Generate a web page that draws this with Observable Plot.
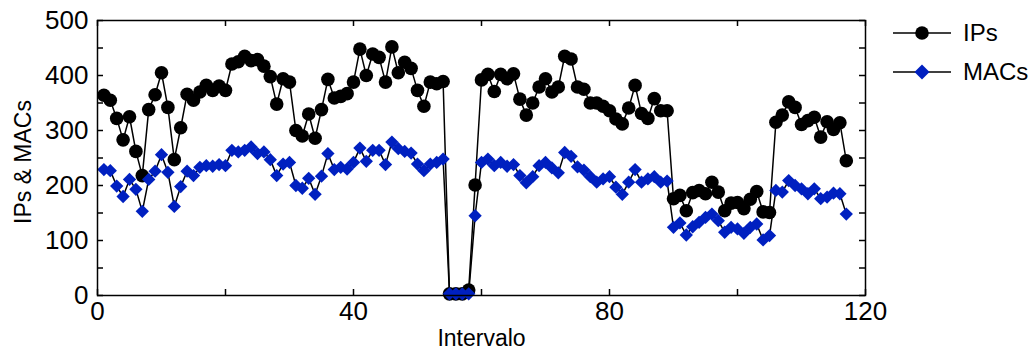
<!DOCTYPE html>
<html>
<head>
<meta charset="utf-8">
<script src="https://cdn.jsdelivr.net/npm/d3@7"></script>
<script src="https://cdn.jsdelivr.net/npm/@observablehq/plot@0.6"></script>
<style>
  body { margin: 0; background: #fff; }
  #wrap { position: relative; width: 1035px; height: 349px; font-family: "Liberation Sans", Arial, Helvetica, sans-serif; }
  #legend { position: absolute; left: 0; top: 0; width: 1035px; height: 349px; pointer-events: none; }
  .lg-item { position: absolute; display: flex; align-items: center; font-size: 24px; color: #000; }
  .lg-item svg { display: block; margin-right: 12px; }
</style>
</head>
<body>
<div id="wrap"><div id="chart"></div><div id="legend"></div></div>
<script>
// ---- data ----
const seriesNames = ["IPs", "MACs"];
const intervalo = d3.range(1, 118); // interval index 1..117
const ips = [
  364, 355, 322, 283, 325, 262, 218, 338, 365, 405,
  342, 247, 305, 366, 355, 370, 382, 373, 381, 373,
  421, 425, 435, 427, 429, 417, 398, 348, 394, 388,
  300, 290, 330, 286, 338, 393, 359, 362, 367, 388,
  448, 400, 439, 433, 388, 452, 405, 424, 413, 373,
  344, 388, 385, 389, 3, 3, 3, 10, 201, 392,
  402, 371, 402, 394, 403, 357, 328, 350, 379, 394,
  370, 379, 435, 430, 379, 375, 350, 350, 344, 336,
  321, 312, 341, 382, 331, 322, 358, 336, 336, 176,
  182, 154, 187, 191, 185, 206, 188, 154, 168, 169,
  158, 175, 189, 152, 151, 315, 328, 352, 342, 311,
  318, 324, 288, 316, 302, 314, 245
];
const macs = [
  229, 227, 199, 180, 211, 193, 153, 211, 226, 256,
  224, 162, 198, 226, 218, 233, 236, 235, 238, 236,
  264, 261, 264, 270, 258, 261, 247, 218, 239, 242,
  200, 195, 213, 184, 217, 258, 229, 233, 230, 242,
  268, 244, 264, 264, 238, 279, 267, 262, 259, 239,
  227, 239, 242, 248, 3, 3, 3, 3, 145, 242,
  248, 236, 242, 235, 238, 218, 205, 216, 236, 242,
  232, 223, 260, 253, 234, 228, 216, 206, 212, 216,
  197, 184, 206, 229, 206, 212, 216, 206, 208, 124,
  132, 110, 125, 133, 142, 148, 136, 115, 124, 121,
  113, 124, 130, 101, 109, 191, 188, 209, 200, 194,
  185, 194, 176, 179, 186, 185, 148
];
const xTickLabels = [0, 40, 80, 120];
const xTickMarks = [0, 20, 40, 60, 80, 100, 120];
const yTickLabels = [0, 100, 200, 300, 400, 500];
const yTickMarks = [0, 50, 100, 150, 200, 250, 300, 350, 400, 450, 500];
const xDomain = [0, 120];
const yDomain = [0, 500];

// ---- layout / style ----
const W = 1035, H = 349;
const mL = 97, mR = 170, mT = 20, mB = 54;
const blue = "#0020c0";
const tickLen = 6;
const yUnitsPerPx = (yDomain[1] - yDomain[0]) / (H - mT - mB);
const xUnitsPerPx = (xDomain[1] - xDomain[0]) / (W - mL - mR);

const ipsData = intervalo.map((x, i) => ({x, v: ips[i]}));
const macsData = intervalo.map((x, i) => ({x, v: macs[i]}));

const tickStyle = {stroke: "black", strokeWidth: 1.5};

const chart = Plot.plot({
  width: W, height: H,
  marginLeft: mL, marginRight: mR, marginTop: mT, marginBottom: mB,
  style: {fontFamily: '"Liberation Sans", Arial, Helvetica, sans-serif', fontSize: "24px", background: "white", color: "black", overflow: "visible"},
  x: {domain: xDomain},
  y: {domain: yDomain},
  marks: [
    // inward tick marks on all four sides
    Plot.ruleX(xTickMarks, {x: d => d, y1: yDomain[0], y2: yDomain[0] + tickLen * yUnitsPerPx, ...tickStyle}),
    Plot.ruleX(xTickMarks, {x: d => d, y1: yDomain[1] - tickLen * yUnitsPerPx, y2: yDomain[1], ...tickStyle}),
    Plot.ruleY(yTickMarks, {y: d => d, x1: xDomain[0], x2: xDomain[0] + tickLen * xUnitsPerPx, ...tickStyle}),
    Plot.ruleY(yTickMarks, {y: d => d, x1: xDomain[1] - tickLen * xUnitsPerPx, x2: xDomain[1], ...tickStyle}),
    Plot.axisX({ticks: xTickLabels, tickSize: 0, tickPadding: 6, fontSize: 26, label: null}),
    Plot.axisY({ticks: yTickLabels, tickSize: 0, tickPadding: 9, fontSize: 26, label: null}),
    Plot.text(["Intervalo"], {frameAnchor: "bottom", dy: 50, lineAnchor: "bottom", textAnchor: "middle", fontSize: 23}),
    Plot.text(["IPs & MACs"], {frameAnchor: "left", dx: -67, dy: 4, rotate: -90, lineAnchor: "bottom", textAnchor: "middle", fontSize: 23}),
    // series
    Plot.lineY(ipsData, {x: "x", y: "v", stroke: "black", strokeWidth: 1.5}),
    Plot.dot(ipsData, {x: "x", y: "v", r: 6.8, fill: "black", symbol: "circle"}),
    Plot.lineY(macsData, {x: "x", y: "v", stroke: "black", strokeWidth: 1.5}),
    Plot.dot(macsData, {x: "x", y: "v", r: 6, fill: blue, symbol: "diamond2"}),
    Plot.frame({stroke: "black", strokeWidth: 1.5})
  ]
});
document.getElementById("chart").appendChild(chart);

// ---- legend ----
const legend = document.getElementById("legend");
const legendTops = [33, 72];
seriesNames.forEach((name, i) => {
  const item = document.createElement("div");
  item.className = "lg-item";
  item.style.left = "893px";
  item.style.top = (legendTops[i] - 14) + "px";
  item.style.height = "28px";
  const marker = name === "IPs"
    ? '<circle cx="29" cy="14" r="6.8" fill="black"/>'
    : '<path d="M29,6.5 L36.5,14 L29,21.5 L21.5,14 Z" fill="' + blue + '"/>';
  item.innerHTML = '<svg width="58" height="28"><line x1="0" x2="58" y1="14" y2="14" stroke="black" stroke-width="1.5"/>' + marker + '</svg><span>' + name + '</span>';
  legend.appendChild(item);
});
</script>
</body>
</html>
